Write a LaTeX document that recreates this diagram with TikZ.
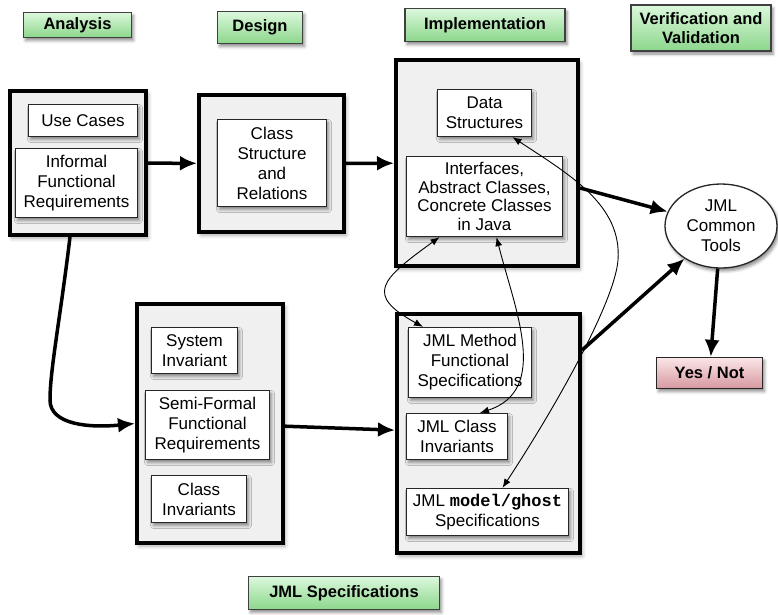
\documentclass[tikz,border=0pt]{standalone}
\usepackage{fontspec}
\setmainfont{Liberation Sans}
\setmonofont{Liberation Mono}
\usepackage{tikz}
\usetikzlibrary{shapes.geometric,arrows.meta,shadows.blur}
\definecolor{hdtop}{RGB}{220,248,220}
\definecolor{hdbot}{RGB}{140,214,140}
\definecolor{yntop}{RGB}{251,230,232}
\definecolor{ynbot}{RGB}{214,152,160}

\begin{document}
\begin{tikzpicture}[x=1pt,y=-1pt, font=\fontsize{17}{20}\selectfont,
  header/.style={draw=black!75,line width=1.3pt,top color=hdtop,bottom color=hdbot,align=center,inner sep=1pt,
    font=\fontsize{16.5}{19}\selectfont\bfseries,blur shadow={shadow xshift=2pt,shadow yshift=-3pt,shadow blur radius=3pt,shadow opacity=45}},
  phase/.style={draw,line width=4pt,fill=black!6,inner sep=0pt,
    blur shadow={shadow xshift=2pt,shadow yshift=-3pt,shadow blur radius=4pt,shadow opacity=35}},
  item/.style={draw=black!85,line width=1.3pt,fill=white,align=center,inner sep=2pt,
    blur shadow={shadow xshift=2pt,shadow yshift=-3pt,shadow blur radius=3pt,shadow opacity=45}},
  flow/.style={line width=3.5pt,-{Latex[length=17pt,width=15pt]}},
  link/.style={line width=0.9pt,{Latex[length=9pt,width=7pt]}-{Latex[length=9pt,width=7pt]}}]
\useasboundingbox (0,0) rectangle (778,614);
\node[header,minimum width=108pt,minimum height=25pt] (hana) at (77.5,25) {Analysis};
\node[header,minimum width=85pt,minimum height=32pt] (hdes) at (260,27.5) {Design};
\node[header,minimum width=160pt,minimum height=33pt] (himpl) at (485,25) {Implementation};
\node[header,minimum width=140pt,minimum height=46pt] (hvv) at (701,28) {Verification and\\Validation};
\node[header,minimum width=191pt,minimum height=33pt] (hjml) at (344,593) {JML Specifications};
\node[phase,minimum width=136pt,minimum height=144pt] (ana) at (78,163) {};
\node[phase,minimum width=145pt,minimum height=137pt] (des) at (271.5,163.5) {};
\node[phase,minimum width=182pt,minimum height=206pt] (impl) at (487,163) {};
\node[phase,minimum width=146pt,minimum height=239pt] (semi) at (210,423.5) {};
\node[phase,minimum width=183pt,minimum height=239pt] (jml) at (488.5,433.5) {};
\node[item,minimum width=109pt,minimum height=32pt] (usecases) at (83,120.5) {Use Cases};
\node[item,minimum width=122pt,minimum height=69pt] (informal) at (76.5,183) {Informal\\Functional\\Requirements};
\node[item,minimum width=109pt,minimum height=87pt] (classrel) at (272,163) {Class\\Structure\\and\\Relations};
\node[item,minimum width=94pt,minimum height=47pt] (datastr) at (484.5,113) {Data\\Structures};
\node[item,minimum width=156pt,minimum height=80pt,font=\fontsize{17}{18.5}\selectfont] (iface) at (484.5,196.5) {Interfaces,\\Abstract Classes,\\Concrete Classes\\in Java};
\node[item,minimum width=86pt,minimum height=46pt] (sysinv) at (194.5,350.5) {System\\Invariant};
\node[item,minimum width=124pt,minimum height=69pt] (semireq) at (207.5,425) {Semi-Formal\\Functional\\Requirements};
\node[item,minimum width=95pt,minimum height=47pt] (clsinv) at (199,499) {Class\\Invariants};
\node[item,minimum width=123pt,minimum height=70pt] (jmlmeth) at (470,362.5) {JML Method\\Functional\\Specifications};
\node[item,minimum width=101pt,minimum height=46pt] (jmlinv) at (457,436.5) {JML Class\\Invariants};
\node[item,minimum width=162pt,minimum height=47pt] (jmlghost) at (487.5,512) {JML \texttt{\bfseries model/ghost}\\Specifications};
\node[item,ellipse,minimum width=112pt,minimum height=84pt,inner sep=0pt] (tools) at (721,226) {JML\\Common\\Tools};
\node[item,minimum width=106pt,minimum height=31pt,top color=yntop,bottom color=ynbot,font=\fontsize{16.5}{19}\selectfont\bfseries] (verdict) at (709.5,373) {Yes / Not};
\draw[flow] (ana) -- (des); \draw[flow] (des) -- (impl); \draw[flow] (semi) -- (jml);
\draw[flow] (impl) -- (tools); \draw[flow] (jml) -- (tools); \draw[flow] (tools) -- (verdict);
\draw[flow] ([xshift=-8pt]ana.south) .. controls (60,320) and (50,370) .. (50,400) .. controls (50,425) and (90,428) .. (semi.west);
\draw[link] ([xshift=28pt]datastr.south) .. controls (570,175) and (622,205) .. (618,260) .. controls (615,300) and (560,400) .. ([xshift=15pt]jmlghost.north);
\draw[link] ([xshift=-45pt]iface.south) .. controls (380,280) and (365,295) .. ([xshift=-47pt]jmlmeth.north);
\draw[link] ([xshift=12pt]iface.south) .. controls (515,310) and (550,390) .. ([xshift=23pt]jmlinv.north);
\end{tikzpicture}
\end{document}
